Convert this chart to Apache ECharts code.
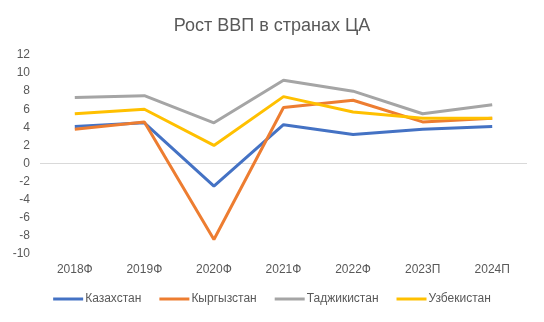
<!DOCTYPE html>
<html><head><meta charset="utf-8">
<script src="https://cdn.jsdelivr.net/npm/echarts@6/dist/echarts.min.js"></script>
<style>html,body{margin:0;padding:0;background:#fff}#c{width:544px;height:322px}</style>
</head><body><div id="c"></div>
<script>
const categories = ['2018Ф','2019Ф','2020Ф','2021Ф','2022Ф','2023П','2024П'];
const kazakhstan = [4.1, 4.5, -2.5, 4.3, 3.2, 3.8, 4.1];
const kyrgyzstan = [3.8, 4.6, -8.4, 6.2, 7.0, 4.6, 5.0];
const tajikistan = [7.3, 7.5, 4.5, 9.2, 8.0, 5.5, 6.5];
const uzbekistan = [5.5, 6.0, 2.0, 7.4, 5.7, 5.0, 5.0];
const seriesNames = ['Казахстан','Кыргызстан','Таджикистан','Узбекистан'];
const colors = ['#4472C4','#ED7D31','#A5A5A5','#FFC000'];
const dataSets = [kazakhstan, kyrgyzstan, tajikistan, uzbekistan];

const chart = echarts.init(document.getElementById('c'), null, {renderer:'canvas'});
const font = 'Liberation Sans, Arial, sans-serif';
const series = dataSets.map((d, i) => ({
  name: seriesNames[i], type: 'line', data: d, symbol: 'none', z: 3,
  lineStyle: {width: 3, color: colors[i]}, itemStyle: {color: colors[i]}
}));
series[0].markLine = {silent: true, symbol: 'none', z: 1, label: {show: false},
  lineStyle: {color: '#D9D9D9', width: 1, type: 'solid'}, emphasis: {disabled: true},
  data: [{yAxis: 0}]};
chart.setOption({
  animation: false,
  color: colors,
  title: {text: 'Рост ВВП в странах ЦА', left: 'center', top: 12,
    textStyle: {fontFamily: font, fontSize: 18, fontWeight: 'normal', color: '#595959'}},
  legend: {bottom: 12, left: 'center', itemWidth: 30, itemHeight: 3, itemGap: 18,
    icon: 'rect', textStyle: {fontFamily: font, fontSize: 12, color: '#595959', padding: [0,0,0,-3]},
    data: seriesNames},
  grid: {left: 40, right: 17, top: 55, bottom: 68, containLabel: false, outerBoundsMode: 'none'},
  xAxis: {type: 'category', data: categories, boundaryGap: true,
    axisLine: {show: false, onZero: false},
    axisTick: {show: false},
    axisLabel: {fontFamily: font, fontSize: 12, color: '#595959', margin: 10}},
  yAxis: {type: 'value', min: -10, max: 12, interval: 2,
    splitLine: {show: false}, axisLine: {show: false}, axisTick: {show: false},
    axisLabel: {fontFamily: font, fontSize: 12, color: '#595959', margin: 10}},
  series: series
});
</script></body></html>
